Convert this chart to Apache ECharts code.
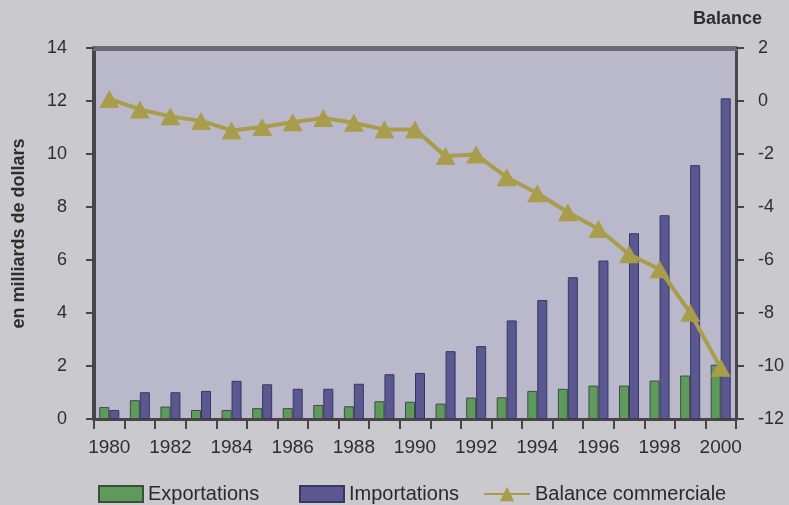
<!DOCTYPE html>
<html><head><meta charset="utf-8">
<script src="https://cdn.jsdelivr.net/npm/echarts@6/dist/echarts.min.js"></script>
<style>html,body{margin:0;padding:0;background:#c9c9ce;}#c{width:789px;height:505px;}</style>
</head><body><div id="c"></div>
<script>
const years = ['1980','1981','1982','1983','1984','1985','1986','1987','1988','1989','1990','1991','1992','1993','1994','1995','1996','1997','1998','1999','2000'];
const exportations = [0.45,0.71,0.47,0.34,0.34,0.41,0.41,0.53,0.48,0.67,0.65,0.58,0.81,0.82,1.06,1.14,1.26,1.26,1.45,1.64,2.05];
const importations = [0.34,1.01,1.01,1.06,1.44,1.31,1.14,1.14,1.33,1.69,1.74,2.56,2.75,3.72,4.49,5.35,5.98,7.01,7.69,9.58,12.1];
const balance = [0.08,-0.32,-0.58,-0.75,-1.11,-0.98,-0.80,-0.64,-0.82,-1.08,-1.08,-2.08,-2.02,-2.88,-3.48,-4.2,-4.83,-5.78,-6.35,-7.99,-10.07];
const leftTicks = {min:0, max:14, interval:2};
const rightTicks = {min:-12, max:2, interval:2};

const chart = echarts.init(document.getElementById('c'));
const font = 'Liberation Sans, Arial, sans-serif';
const olive = '#a99d4c';
const legendText = {fontSize: 20, color: '#2a2a2a'};
chart.setOption({
  backgroundColor: '#c9c9ce',
  textStyle: {fontFamily: font},
  title: {text: 'Balance', right: 22, top: 5, textStyle: {fontSize: 18, fontWeight: 'bold', color: '#2e2e2e', fontFamily: font}},
  grid: {left: 94, right: 53, top: 48, bottom: 86, show: true, backgroundColor: '#b9b9cb', borderWidth: 0},
  legend: [
    {data: [{name: 'Exportations', icon: 'rect'}], left: 93, top: 479, itemWidth: 44, itemHeight: 16, textStyle: legendText},
    {data: [{name: 'Importations', icon: 'rect'}], left: 294, top: 479, itemWidth: 44, itemHeight: 16, textStyle: legendText},
    {data: ['Balance commerciale'], left: 478, top: 479, itemWidth: 46, itemHeight: 18, textStyle: legendText}
  ],
  xAxis: [
    {type: 'category', data: years, position: 'bottom',
     axisLine: {onZero: false, lineStyle: {color: '#4a4448', width: 3}},
     axisTick: {show: true, interval: 0, length: 10, lineStyle: {color: '#4a4448', width: 2}},
     axisLabel: {interval: 1, fontSize: 19, color: '#2e2e2e', margin: 19}},
    {type: 'category', data: years, position: 'top',
     axisLine: {onZero: false, lineStyle: {color: '#6d6872', width: 5}},
     axisTick: {show: false}, axisLabel: {show: false}}
  ],
  yAxis: [
    {type: 'value', min: leftTicks.min, max: leftTicks.max, interval: leftTicks.interval,
     name: 'en milliards de dollars', nameLocation: 'middle', nameGap: 66,
     nameTextStyle: {fontSize: 18, fontWeight: 'bold', color: '#2e2e2e'},
     axisLine: {show: true, lineStyle: {color: '#4a4448', width: 4}},
     axisTick: {show: true, length: 8, lineStyle: {color: '#4a4448', width: 2}},
     splitLine: {show: false},
     axisLabel: {fontSize: 18, color: '#2e2e2e', margin: 27}},
    {type: 'value', min: rightTicks.min, max: rightTicks.max, interval: rightTicks.interval, position: 'right',
     axisLine: {show: true, lineStyle: {color: '#4d4547', width: 3}},
     axisTick: {show: true, length: 8, lineStyle: {color: '#4a4448', width: 2}},
     splitLine: {show: false},
     axisLabel: {fontSize: 18, color: '#2e2e2e', margin: 22}}
  ],
  series: [
    {name: 'Exportations', type: 'bar', data: exportations, barWidth: 10, barGap: '0%',
     itemStyle: {color: '#5d9a5c', borderColor: '#3d4f3c', borderWidth: 1}},
    {name: 'Importations', type: 'bar', data: importations, barWidth: 10, barGap: '0%',
     itemStyle: {color: '#5b5790', borderColor: '#393660', borderWidth: 1}},
    {name: 'Balance commerciale', type: 'line', yAxisIndex: 1, data: balance,
     symbol: 'triangle', symbolSize: [20, 18],
     lineStyle: {color: olive, width: 4}, itemStyle: {color: olive}}
  ]
});
</script></body></html>
